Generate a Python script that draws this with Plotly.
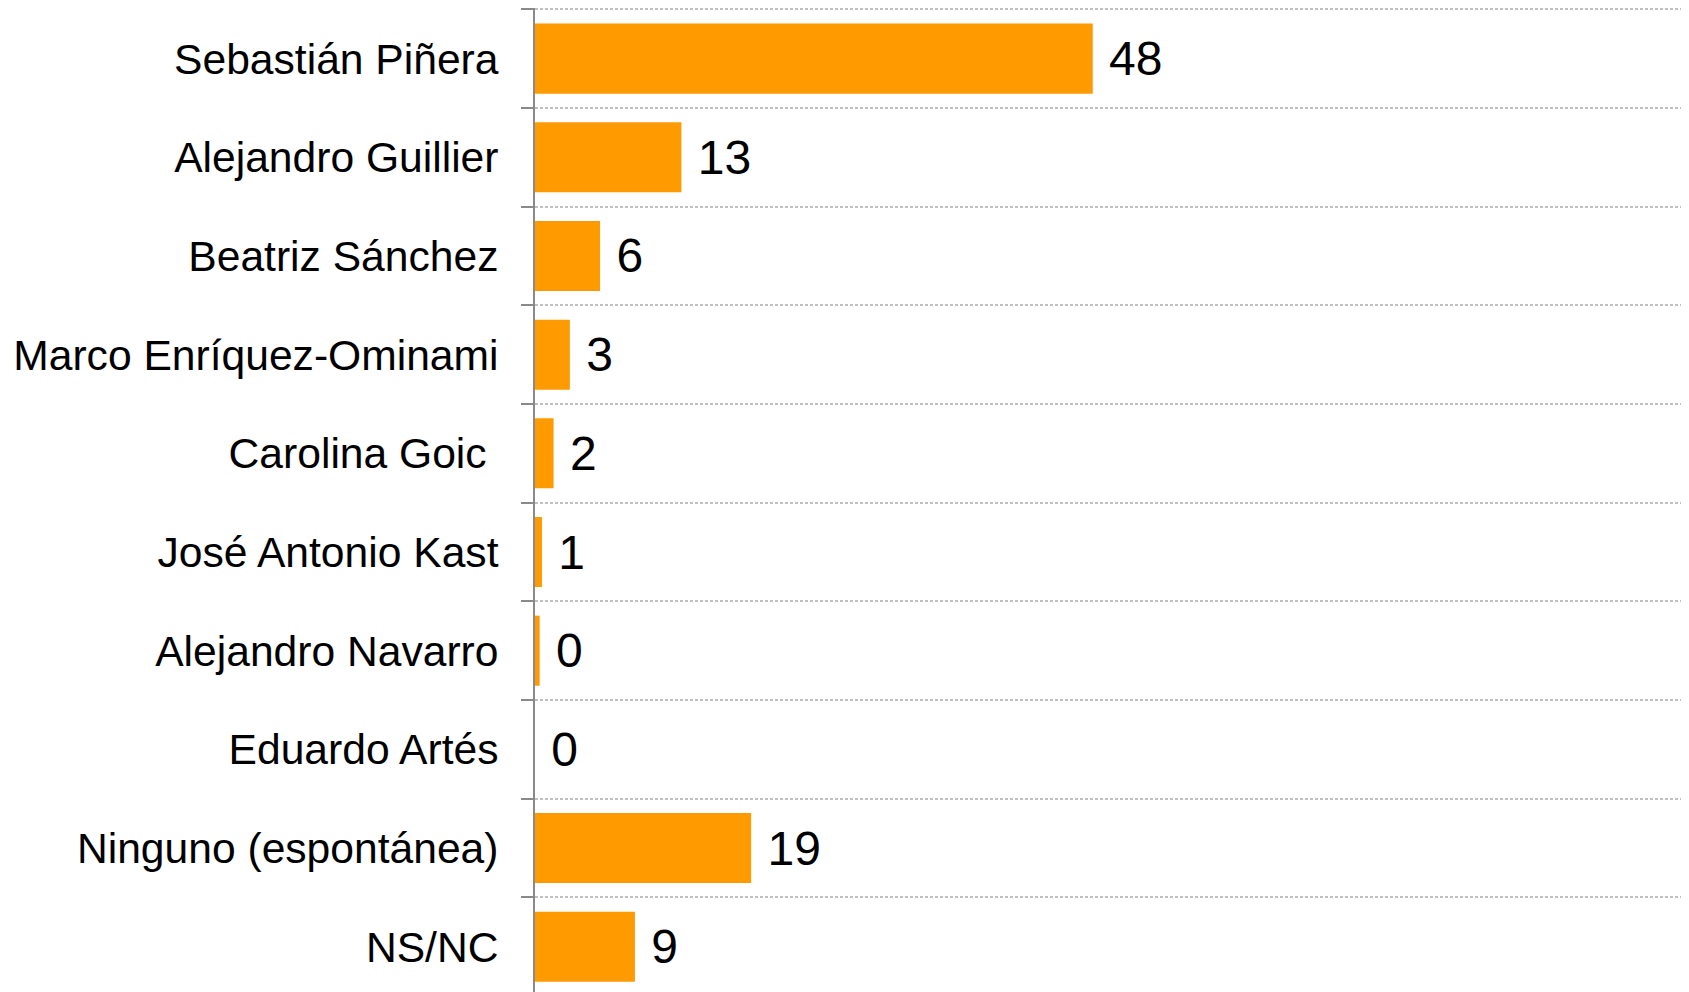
"""Horizontal bar chart: candidate preference (%), Chile 2017."""

import plotly.graph_objects as go

candidates = [
    "Sebastián Piñera",
    "Alejandro Guillier",
    "Beatriz Sánchez",
    "Marco Enríquez-Ominami",
    "Carolina Goic\u00a0",
    "José Antonio Kast",
    "Alejandro Navarro",
    "Eduardo Artés",
    "Ninguno (espontánea)",
    "NS/NC",
]
percent = [48.0, 12.6, 5.6, 3.0, 1.6, 0.6, 0.4, 0.0, 18.6, 8.6]

FONT = "Liberation Sans, Arial, sans-serif"
ORANGE = "#FF9A00"

fig = go.Figure(
    go.Bar(
        x=percent,
        y=candidates,
        orientation="h",
        marker={"color": ORANGE, "line": {"width": 0}},
        texttemplate="\u00a0%{x:.0f}",
        textposition="outside",
        textfont={"family": FONT, "size": 48, "color": "black"},
        cliponaxis=False,
        hoverinfo="skip",
    )
)

# page body keeps an 8px margin, so everything is shifted by 8px
fig.update_yaxes(
    type="category",
    categoryorder="array",
    categoryarray=candidates,
    range=[9.459, -0.5132],
    tickson="boundaries",
    ticks="outside",
    ticklen=12,
    tickwidth=2,
    tickcolor="#8a8a8a",
    showline=True,
    linecolor="#8a8a8a",
    linewidth=2,
    showgrid=True,
    gridcolor="#c0c0c0",
    gridwidth=1.5,
    griddash="3px,2px",
    ticklabelstandoff=26,
    tickfont={"family": FONT, "size": 42.6, "color": "black"},
)
fig.update_xaxes(
    range=[0, 100.0],
    showgrid=False,
    zeroline=False,
    showticklabels=False,
    showline=False,
)
fig.update_layout(
    width=1689,
    height=984,
    bargap=0.29,
    plot_bgcolor="white",
    paper_bgcolor="white",
    showlegend=False,
    margin={"l": 527, "r": 0, "t": 0, "b": 0},
)

fig.write_html("out.html")
